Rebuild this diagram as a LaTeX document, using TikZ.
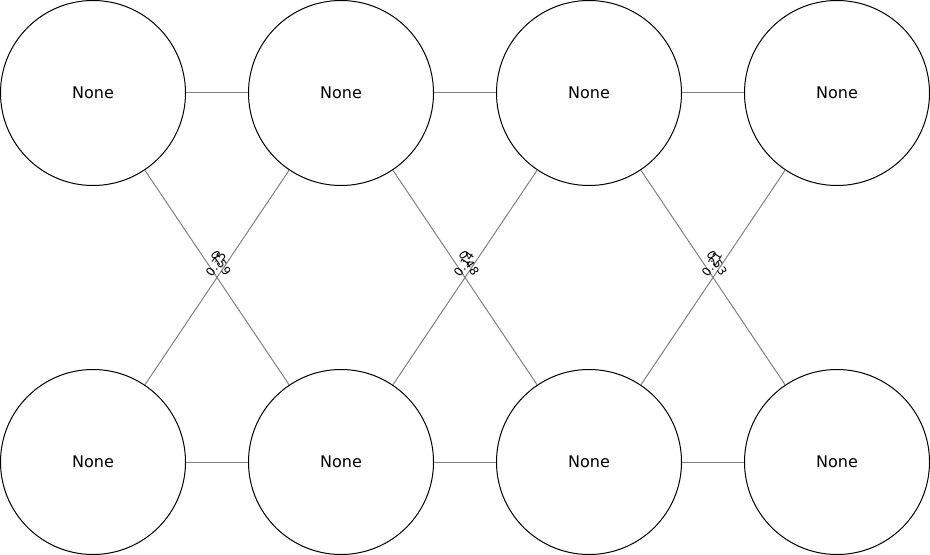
\documentclass[tikz,border=0pt]{standalone}
\usepackage{fontspec}
\setmainfont{DejaVu Sans}
\usetikzlibrary{positioning}
\definecolor{edgegray}{HTML}{808080}

\begin{document}
\begin{tikzpicture}[x=0.75pt, y=-0.75pt,
		state/.style = {circle, draw = black, line width = 0.75pt, fill = white, minimum size = 138.75pt, inner sep = 0pt, font = \fontsize{12}{14}\selectfont},
		link/.style = {draw = edgegray, line width = 0.75pt},
		weight/.style = {inner sep = 0pt, font = \fontsize{8.8}{10}\selectfont}]
		\useasboundingbox (0,0) rectangle (930,555);
		% top row
		\node[state] (t1) at (93,93) {None};
		\node[state, right = 46.5pt of t1] (t2) {None};
		\node[state, right = 46.5pt of t2] (t3) {None};
		\node[state, right = 46.5pt of t3] (t4) {None};
		% bottom row
		\node[state, below = 137.25pt of t1] (b1) {None};
		\node[state, right = 46.5pt of b1] (b2) {None};
		\node[state, right = 46.5pt of b2] (b3) {None};
		\node[state, right = 46.5pt of b3] (b4) {None};
		\foreach \i/\j in {1/2, 2/3, 3/4}{
			\draw[link] (t\i) -- (t\j);
			\draw[link] (b\i) -- (b\j);
			\draw[link] (t\i) -- (b\j);
			\draw[link] (b\i) -- (t\j);
		}
		% edge weights
		\node[weight, rotate = -56] (w12a) at (221,263) {0.59};
		\node[weight, rotate = 56] (w12b) at (216,264) {0.75};
		\node[weight, rotate = -56] (w23a) at (469,263) {0.48};
		\node[weight, rotate = 56] (w23b) at (464,264) {0.14};
		\node[weight, rotate = -56] (w34a) at (717,263) {0.53};
		\node[weight, rotate = 56] (w34b) at (712,264) {0.21};
	\end{tikzpicture}
\end{document}
